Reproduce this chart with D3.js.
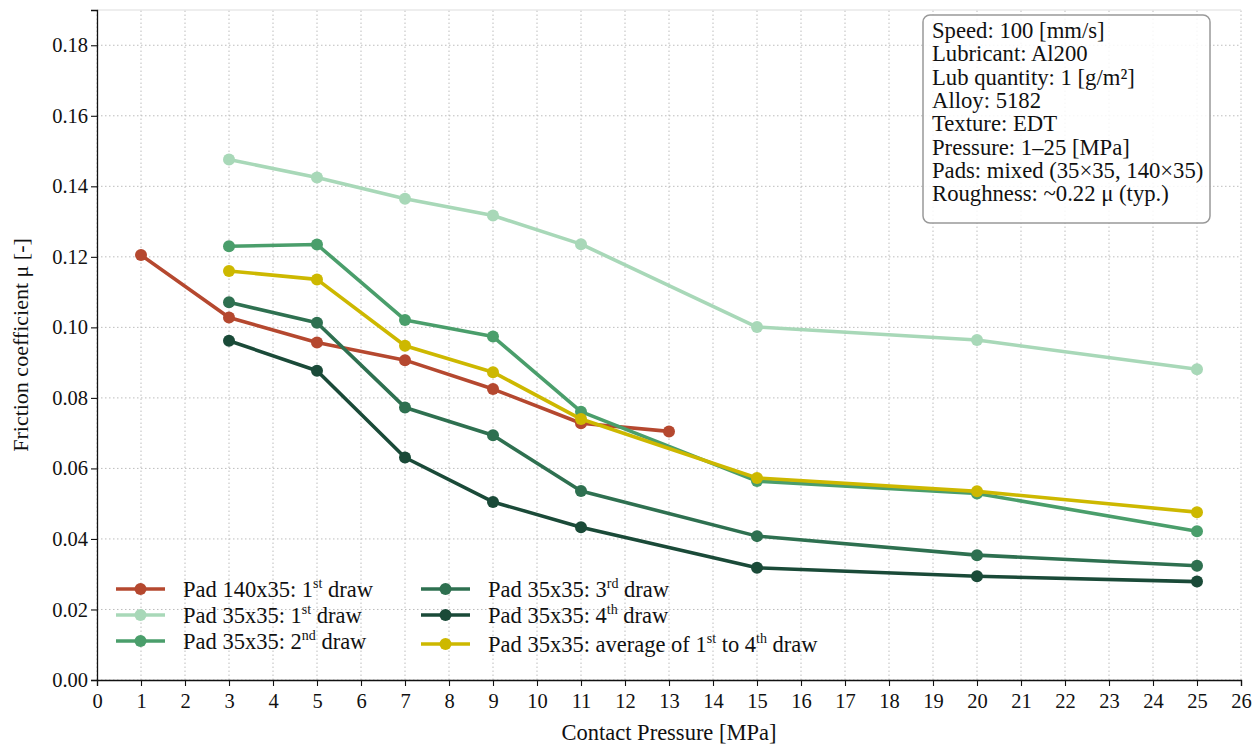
<!DOCTYPE html>
<html>
<head>
<meta charset="utf-8">
<script src="https://cdn.jsdelivr.net/npm/d3@7"></script>
<style>
  body { margin: 0; background: #fff; }
  text { font-family: "Liberation Serif", "Times New Roman", serif; fill: #111; }
</style>
</head>
<body>
<div id="visContainer"></div>
<script>
// pressure levels [MPa] per series
const padLargeX = [1, 3, 5, 7, 9, 11, 13];
const padSmallX = [3, 5, 7, 9, 11, 15, 20, 25];

// friction coefficient values
const pad140Draw1 = [0.1205, 0.1028, 0.0957, 0.0907, 0.0825, 0.0728, 0.0705];
const pad35Draw1 = [0.1476, 0.1425, 0.1365, 0.1317, 0.1236, 0.1001, 0.0964, 0.0881];
const pad35Draw2 = [0.1230, 0.1235, 0.1021, 0.0974, 0.0761, 0.0564, 0.0529, 0.0422];
const pad35Draw3 = [0.1071, 0.1013, 0.0773, 0.0694, 0.0536, 0.0408, 0.0354, 0.0324];
const pad35Draw4 = [0.0962, 0.0877, 0.0631, 0.0505, 0.0433, 0.0318, 0.0294, 0.0279];
const pad35Avg = [0.1160, 0.1136, 0.0948, 0.0873, 0.0740, 0.0573, 0.0535, 0.0476];

const xTicks = d3.range(0, 27);
const yTicks = [0, 0.02, 0.04, 0.06, 0.08, 0.10, 0.12, 0.14, 0.16, 0.18];

const infoLines = [
  "Speed: 100 [mm/s]",
  "Lubricant: Al200",
  "Lub quantity: 1 [g/m²]",
  "Alloy: 5182",
  "Texture: EDT",
  "Pressure: 1–25 [MPa]",
  "Pads: mixed (35×35, 140×35)",
  "Roughness: ~0.22 μ (typ.)"
];

// label parts: base, superscript, rest, superscript, rest
const series = [
  { xs: padLargeX, ys: pad140Draw1, color: "#b5482f", label: ["Pad 140x35: 1", "st", " draw"] },
  { xs: padSmallX, ys: pad35Draw1, color: "#a8d8b8", label: ["Pad 35x35: 1", "st", " draw"] },
  { xs: padSmallX, ys: pad35Draw2, color: "#4a9e6b", label: ["Pad 35x35: 2", "nd", " draw"] },
  { xs: padSmallX, ys: pad35Draw3, color: "#2e7050", label: ["Pad 35x35: 3", "rd", " draw"] },
  { xs: padSmallX, ys: pad35Draw4, color: "#1a4a38", label: ["Pad 35x35: 4", "th", " draw"] },
  { xs: padSmallX, ys: pad35Avg, color: "#cdb800", label: ["Pad 35x35: average of 1", "st", " to 4", "th", " draw"] }
];

function makeVis() {
  const width = 1259;
  const height = 745;
  const margins = { left: 97, right: 18, top: 10, bottom: 65 };

  const svg = d3.create("svg")
    .attr("width", width)
    .attr("height", height);
  document.querySelector("#visContainer").append(svg.node());

  const xScale = d3.scaleLinear().domain([0, 26]).range([margins.left, width - margins.right]);
  const yScale = d3.scaleLinear().domain([0, 0.19]).range([height - margins.bottom, margins.top]);

  // grid
  const grid = svg.append("g").attr("stroke", "#bdbdbd").attr("stroke-width", 1)
    .attr("stroke-dasharray", "1.5,2.5");
  grid.selectAll(".gx").data(xTicks).join("line")
    .attr("x1", d => xScale(d)).attr("x2", d => xScale(d))
    .attr("y1", yScale(0)).attr("y2", yScale(0.19));
  grid.selectAll(".gy").data(yTicks).join("line")
    .attr("y1", d => yScale(d)).attr("y2", d => yScale(d))
    .attr("x1", xScale(0)).attr("x2", xScale(26));

  // faint top frame
  svg.append("line")
    .attr("x1", xScale(0)).attr("x2", xScale(26))
    .attr("y1", yScale(0.19)).attr("y2", yScale(0.19))
    .attr("stroke", "#dddddd").attr("stroke-width", 1);

  // axes
  const xAxis = svg.append("g")
    .attr("transform", `translate(0,${yScale(0)})`)
    .call(d3.axisBottom(xScale).tickValues(xTicks).tickFormat(d3.format("d")).tickSizeOuter(0).tickSize(6));
  const yAxis = svg.append("g")
    .attr("transform", `translate(${xScale(0)},0)`)
    .call(d3.axisLeft(yScale).tickValues(yTicks).tickFormat(d3.format(".2f")).tickSizeOuter(0).tickSize(6));
  [xAxis, yAxis].forEach(a => {
    a.select(".domain").attr("stroke", "#111").attr("stroke-width", 1.3);
    a.selectAll(".tick line").attr("stroke", "#111").attr("stroke-width", 1.1);
    a.selectAll(".tick text").style("font-family", "Liberation Serif").style("font-size", "20.5px").attr("fill", "#111");
  });
  xAxis.selectAll(".tick text").attr("dy", "0.95em");
  yAxis.selectAll(".tick text").attr("x", -9);

  svg.append("text")
    .attr("x", (xScale(0) + xScale(26)) / 2).attr("y", 740)
    .attr("text-anchor", "middle").style("font-size", "22.5px")
    .text("Contact Pressure [MPa]");
  svg.append("text")
    .attr("transform", `translate(28,${(yScale(0) + yScale(0.19)) / 2}) rotate(-90)`)
    .attr("text-anchor", "middle").style("font-size", "22px")
    .text("Friction coefficient μ [-]");

  // series
  const line = d3.line().x(d => xScale(d[0])).y(d => yScale(d[1]));
  series.forEach(s => {
    const pts = s.xs.map((x, i) => [x, s.ys[i]]);
    const g = svg.append("g");
    g.append("path").datum(pts).attr("d", line)
      .attr("fill", "none").attr("stroke", s.color).attr("stroke-width", 3.6)
      .attr("stroke-linejoin", "round");
    g.selectAll("circle").data(pts).join("circle")
      .attr("cx", d => xScale(d[0])).attr("cy", d => yScale(d[1]))
      .attr("r", 6).attr("fill", s.color);
  });

  // legend (two columns)
  const legCols = [116, 421];
  const legRows = [[589, 615, 641], [589, 615, 644]];
  series.forEach((s, i) => {
    const col = Math.floor(i / 3);
    const row = i % 3;
    const lx = legCols[col];
    const ly = legRows[col][row];
    const g = svg.append("g");
    g.append("line").attr("x1", lx).attr("x2", lx + 49).attr("y1", ly).attr("y2", ly)
      .attr("stroke", s.color).attr("stroke-width", 3.6);
    g.append("circle").attr("cx", lx + 24.5).attr("cy", ly).attr("r", 6).attr("fill", s.color);
    const t = g.append("text").attr("x", lx + 67).attr("y", ly + 7.5).style("font-size", "22.5px");
    s.label.forEach((part, k) => {
      if (k % 2 === 1) {
        t.append("tspan").attr("dy", -8.5).style("font-size", "14px").text(part);
      } else {
        t.append("tspan").attr("dy", k === 0 ? 0 : 8.5).text(part);
      }
    });
  });

  // info box
  const boxX = 923, boxY = 15, boxW = 287, boxH = 208;
  svg.append("rect")
    .attr("x", boxX).attr("y", boxY).attr("width", boxW).attr("height", boxH)
    .attr("rx", 7).attr("fill", "rgba(255,255,255,0.85)")
    .attr("stroke", "#999").attr("stroke-width", 1.5);
  svg.append("g").selectAll("text").data(infoLines).join("text")
    .attr("x", boxX + 9).attr("y", (d, i) => boxY + 23 + i * 23.3)
    .style("font-size", "22.7px")
    .text(d => d);
}

makeVis();
</script>
</body>
</html>
